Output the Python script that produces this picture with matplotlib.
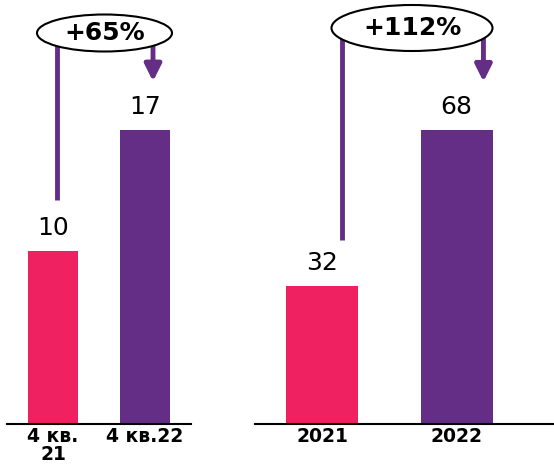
import matplotlib
matplotlib.use('Agg')
import matplotlib.pyplot as plt
from matplotlib.patches import Ellipse

q_labels = ['4 кв.\n21', '4 кв.22']
q_values = [10, 17]
q_growth = '+65%'

y_labels = ['2021', '2022']
y_values = [32, 68]
y_growth = '+112%'

PINK = '#EF2160'
PURPLE = '#642D86'
W, H = 554, 475

plt.rcParams['font.family'] = ['DejaVu Sans']
fig = plt.figure(figsize=(W / 100, H / 100), dpi=100)


def px_ax(x0, x1, y0, y1):
    return fig.add_axes([x0 / W, 1 - y1 / H, (x1 - x0) / W, (y1 - y0) / H])


def panel(ax, labels, values, ytop, xlim, width, growth, line_dx, arrow_dx,
          line_bottom, arrow_tip, line_top, ell):
    xs = range(len(values))
    ax.bar(xs, values, width=width, color=[PINK, PURPLE])
    for x, v in zip(xs, values):
        ax.annotate(str(v), (x, v), xytext=(0, 8), textcoords='offset points',
                    ha='center', va='bottom', fontsize=18)
    ax.set_xlim(*xlim)
    ax.set_ylim(0, ytop)
    ax.set_xticks(list(xs))
    ax.set_xticklabels(labels, fontsize=13.5, fontweight='bold', linespacing=0.95)
    ax.tick_params(axis='x', length=0, pad=2)
    ax.set_yticks([])
    for s in ('top', 'left', 'right'):
        ax.spines[s].set_visible(False)
    ax.spines['bottom'].set_linewidth(1.5)
    # connector line from first bar label up under the ellipse
    ax.plot([line_dx, line_dx], [values[0] + line_bottom, line_top],
            color=PURPLE, lw=3.5, clip_on=False, solid_capstyle='butt', zorder=3)
    # arrow down to second bar label
    ax.annotate('', xy=(1 + arrow_dx, values[1] + arrow_tip),
                xytext=(1 + arrow_dx, line_top),
                arrowprops=dict(arrowstyle='-|>,head_width=0.5,head_length=1.0',
                                color=PURPLE, lw=3.5, shrinkA=0, shrinkB=0),
                annotation_clip=False, zorder=3)
    cx, cy, ew, eh = ell
    ax.add_patch(Ellipse((cx / W, 1 - cy / H), ew / W, eh / H,
                         transform=fig.transFigure, facecolor='white',
                         edgecolor='black', lw=1.5, zorder=5, clip_on=False))
    ax.text(cx / W, 1 - cy / H, growth, transform=fig.transFigure,
            ha='center', va='center', fontsize=18, fontweight='bold', zorder=6)


ax1 = px_ax(7, 191, 0, 424)
panel(ax1, q_labels, q_values, 24.5, (-0.5, 1.5), 0.54, q_growth,
      0.04, 0.087, 2.95, 2.8, 22.6, (104.5, 33, 135, 37))

ax2 = px_ax(255, 554, 0, 424)
panel(ax2, y_labels, y_values, 98.1, (-0.5, 1.725), 0.535, y_growth,
      0.15, 0.2, 10.6, 11.2, 91.0, (412, 28, 161, 46))

fig.savefig('out.png', dpi=100)
